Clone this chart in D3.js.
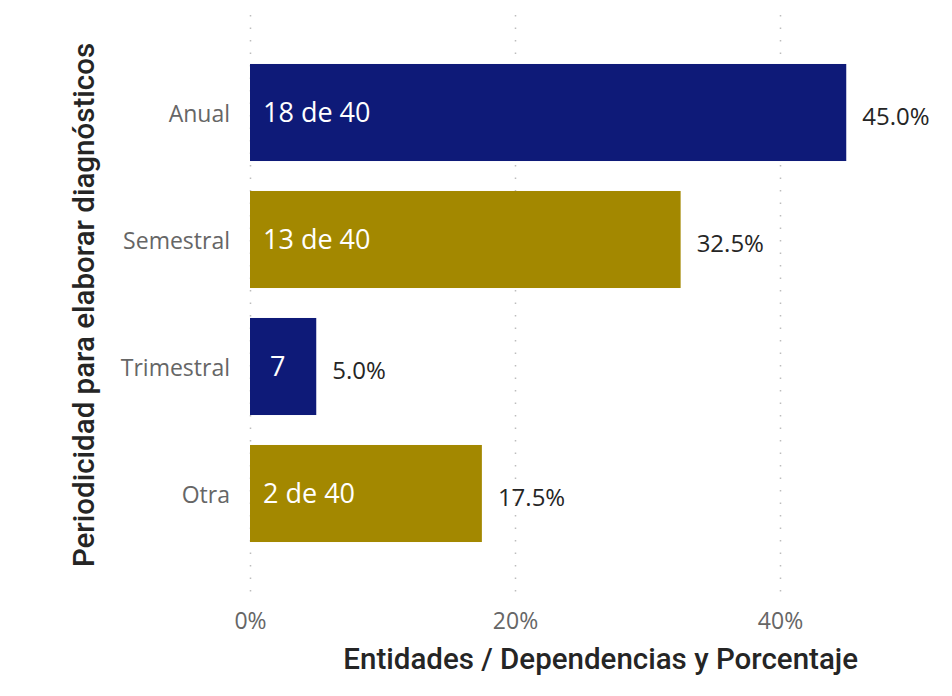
<!DOCTYPE html>
<html>
<head>
<meta charset="utf-8">
<script src="https://cdn.jsdelivr.net/npm/d3@7"></script>
<style>
  body { margin: 0; background: #fff; }
  #chart { width: 952px; height: 696px; }
</style>
</head>
<body>
<div id="chart"></div>
<script>
// data
var categories = ["Anual", "Semestral", "Trimestral", "Otra"];
var shares = [0.45, 0.325, 0.05, 0.175];
var innerLabels = ["18 de 40", "13 de 40", "7", "2 de 40"];
var ticks = [0, 0.2, 0.4];
var colors = ["#0e1a78", "#a38800", "#0e1a78", "#a38800"];

var width = 952, height = 696;

var svg = d3.select("#chart")
    .append("svg")
    .attr("width", width)
    .attr("height", height);

var x = d3.scaleLinear()
    .domain([0, 0.5])
    .range([250, 912.5]);

var y = d3.scaleBand()
    .domain(categories)
    .range([49, 557])
    .paddingInner(0.236)
    .paddingOuter(0.118);

// dotted grid lines
svg.selectAll("line.grid")
    .data(ticks)
    .enter()
    .append("line")
    .attr("class", "grid")
    .attr("x1", function(d) { return Math.round(x(d)) + 0.5; })
    .attr("x2", function(d) { return Math.round(x(d)) + 0.5; })
    .attr("y1", 15)
    .attr("y2", 600)
    .attr("stroke", "#bdbdbd")
    .attr("stroke-width", 1.5)
    .attr("stroke-dasharray", "1.5,11");

// x tick labels
var xAxis = d3.axisBottom(x)
    .tickValues(ticks)
    .tickFormat(d3.format(".0%"))
    .tickSize(0);

var gx = svg.append("g")
    .attr("transform", "translate(0,610)")
    .call(xAxis);
gx.select(".domain").remove();
gx.selectAll("text")
    .attr("font-family", "'Open Sans', 'Noto Sans', sans-serif")
    .attr("font-size", 23)
    .attr("fill", "#666");

// y category labels
var yAxis = d3.axisLeft(y).tickSize(0).tickPadding(0);
var gy = svg.append("g")
    .attr("transform", "translate(230,2)")
    .call(yAxis);
gy.select(".domain").remove();
gy.selectAll("text")
    .attr("font-family", "'Open Sans', 'Noto Sans', sans-serif")
    .attr("font-size", 23)
    .attr("fill", "#666");

// bars
svg.selectAll("rect.bar")
    .data(categories)
    .enter()
    .append("rect")
    .attr("class", "bar")
    .attr("x", x(0))
    .attr("y", function(d) { return y(d); })
    .attr("width", function(d, i) { return x(shares[i]) - x(0); })
    .attr("height", y.bandwidth())
    .attr("fill", function(d, i) { return colors[i]; });

// labels inside the bars
svg.selectAll("text.inner")
    .data(categories)
    .enter()
    .append("text")
    .attr("class", "inner")
    .attr("x", function(d, i) { return x(0) + (innerLabels[i].length < 3 ? 20 : 13); })
    .attr("y", function(d) { return y(d) + y.bandwidth() / 2; })
    .attr("dy", "0.35em")
    .attr("font-family", "'Open Sans', 'Noto Sans', sans-serif")
    .attr("font-size", 27)
    .attr("fill", "#fff")
    .text(function(d, i) { return innerLabels[i]; });

// percentage labels
svg.selectAll("text.value")
    .data(categories)
    .enter()
    .append("text")
    .attr("class", "value")
    .attr("x", function(d, i) { return x(shares[i]) + 16; })
    .attr("y", function(d) { return y(d) + y.bandwidth() / 2 + 4; })
    .attr("dy", "0.35em")
    .attr("font-family", "'Open Sans', 'Noto Sans', sans-serif")
    .attr("font-size", 24)
    .attr("fill", "#252525")
    .text(function(d, i) { return d3.format(".1%")(shares[i]); });

// axis titles
svg.append("text")
    .attr("x", 858)
    .attr("y", 669)
    .attr("text-anchor", "end")
    .attr("font-family", "Roboto, sans-serif")
    .attr("font-weight", 500)
    .attr("font-size", 29.5)
    .attr("fill", "#252525")
    .text("Entidades / Dependencias y Porcentaje");

svg.append("text")
    .attr("transform", "translate(94,305) rotate(-90)")
    .attr("text-anchor", "middle")
    .attr("font-family", "Roboto, sans-serif")
    .attr("font-weight", 500)
    .attr("font-size", 29.5)
    .attr("fill", "#252525")
    .text("Periodicidad para elaborar diagnósticos");
</script>
</body>
</html>
